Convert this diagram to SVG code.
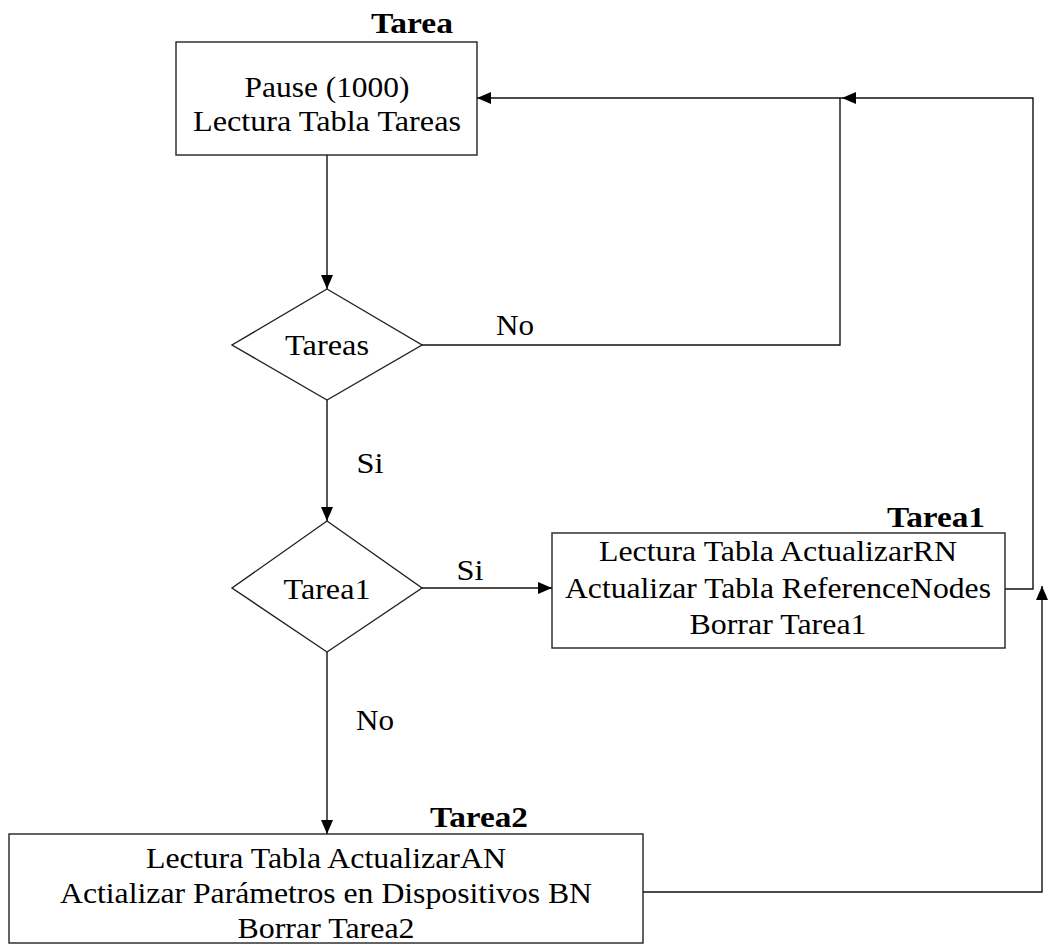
<svg xmlns="http://www.w3.org/2000/svg" width="1048" height="944" viewBox="0 0 1048 944">
  <style>
    .shape { fill: #ffffff; stroke: #222222; stroke-width: 1.4; }
    .wire { fill: none; stroke: #111111; stroke-width: 1.4; }
    .txt { font-family: "Liberation Serif", "Times New Roman", serif; font-size: 30px; fill: #000000; text-anchor: middle; }
    .ttl { font-family: "Liberation Serif", "Times New Roman", serif; font-size: 30px; font-weight: bold; fill: #000000; text-anchor: middle; }
  </style>
  <defs>
    <marker id="arrow" viewBox="0 0 14 12" refX="14" refY="6" markerWidth="14" markerHeight="12" markerUnits="userSpaceOnUse" orient="auto">
      <path d="M0,0 L14,6 L0,12 Z" fill="#000000"/>
    </marker>
  </defs>

  <rect width="1048" height="944" fill="#ffffff"/>

  <!-- connectors -->
  <g id="connectors">
    <path class="wire" d="M327,155 V289" marker-end="url(#arrow)"/>
    <path class="wire" d="M422,345 H840 V98"/>
    <path class="wire" d="M1005,589 H1033 V98 H842" marker-end="url(#arrow)"/>
    <path class="wire" d="M842,98 H477" marker-end="url(#arrow)"/>
    <path class="wire" d="M327,400 V521" marker-end="url(#arrow)"/>
    <path class="wire" d="M422,588 H552" marker-end="url(#arrow)"/>
    <path class="wire" d="M327,652 V834" marker-end="url(#arrow)"/>
    <path class="wire" d="M643,892 H1042 V586" marker-end="url(#arrow)"/>
    <text class="txt" x="515" y="335" textLength="38" lengthAdjust="spacingAndGlyphs">No</text>
    <text class="txt" x="370" y="473" textLength="27" lengthAdjust="spacingAndGlyphs">Si</text>
    <text class="txt" x="470" y="580" textLength="27" lengthAdjust="spacingAndGlyphs">Si</text>
    <text class="txt" x="375" y="730" textLength="38" lengthAdjust="spacingAndGlyphs">No</text>
  </g>

  <!-- start block -->
  <g id="tarea">
    <text class="ttl" x="412" y="33" textLength="82" lengthAdjust="spacingAndGlyphs">Tarea</text>
    <rect class="shape" x="176" y="42" width="301" height="113"/>
    <text class="txt" x="327" y="97" textLength="165" lengthAdjust="spacingAndGlyphs">Pause (1000)</text>
    <text class="txt" x="327" y="131" textLength="268" lengthAdjust="spacingAndGlyphs">Lectura Tabla Tareas</text>
  </g>

  <!-- decision: any pending tasks -->
  <g id="tareas-check">
    <polygon class="shape" points="327,289 422,345 327,400 232,345"/>
    <text class="txt" x="327" y="355" textLength="84" lengthAdjust="spacingAndGlyphs">Tareas</text>
  </g>

  <!-- decision: task type 1 -->
  <g id="tarea1-check">
    <polygon class="shape" points="327,521 422,588 327,652 232,588"/>
    <text class="txt" x="327" y="599" textLength="87" lengthAdjust="spacingAndGlyphs">Tarea1</text>
  </g>

  <!-- task 1 block -->
  <g id="tarea1">
    <text class="ttl" x="936" y="527" textLength="98" lengthAdjust="spacingAndGlyphs">Tarea1</text>
    <rect class="shape" x="552" y="533" width="453" height="115"/>
    <text class="txt" x="778" y="561" textLength="358" lengthAdjust="spacingAndGlyphs">Lectura Tabla ActualizarRN</text>
    <text class="txt" x="778" y="598" textLength="426" lengthAdjust="spacingAndGlyphs">Actualizar Tabla ReferenceNodes</text>
    <text class="txt" x="778" y="634" textLength="177" lengthAdjust="spacingAndGlyphs">Borrar Tarea1</text>
  </g>

  <!-- task 2 block -->
  <g id="tarea2">
    <text class="ttl" x="479" y="827" textLength="98" lengthAdjust="spacingAndGlyphs">Tarea2</text>
    <rect class="shape" x="9" y="834" width="634" height="109"/>
    <text class="txt" x="326" y="868" textLength="360" lengthAdjust="spacingAndGlyphs">Lectura Tabla ActualizarAN</text>
    <text class="txt" x="326" y="903" textLength="532" lengthAdjust="spacingAndGlyphs">Actializar Parámetros en Dispositivos BN</text>
    <text class="txt" x="326" y="938" textLength="177" lengthAdjust="spacingAndGlyphs">Borrar Tarea2</text>
  </g>
</svg>
